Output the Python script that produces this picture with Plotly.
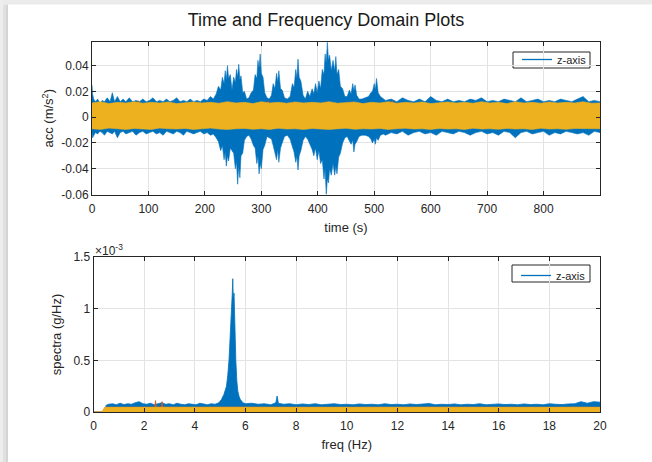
import plotly.graph_objects as go

# ---------------- time-domain data (envelopes) ----------------
z_time = [0, 1, 3, 6, 10, 14, 18, 22, 27, 32, 36, 40, 45, 50, 55, 60, 66, 72, 78, 84,
          90, 96, 102, 108, 114, 120, 126, 132, 138, 144, 150, 156, 162, 168, 174, 180, 186, 192, 198, 204,
          210, 215, 220,
          224, 228, 231, 234, 236, 238, 240, 242, 245, 248,
          251, 254, 256, 258, 260, 262, 264, 267, 270, 274,
          278, 282, 286, 289, 292, 294, 296, 298, 300, 303,
          306, 310, 314, 318, 321, 324, 327, 329, 331, 334,
          337, 341, 346, 351, 355, 358, 361, 363, 365, 367,
          370, 374, 378, 382, 386, 390, 393, 396, 399, 402,
          405, 408, 411, 413, 415, 417, 419, 421, 424, 427,
          430, 432, 434, 437, 440, 444, 448, 452, 456, 459,
          462, 464, 466, 469, 473, 478, 484, 490, 494, 497,
          500, 502, 504, 507, 511, 516, 520,
          530, 540, 550, 560, 570, 580, 590, 600, 610, 620, 630, 640, 650, 660, 670, 680, 690, 700, 710,
          720, 730, 740, 750, 760, 770, 780, 790, 800, 810, 820, 830, 840, 850, 860, 870, 880, 890, 900]
z_upper = [0.025, 0.018, 0.014, 0.012, 0.014, 0.011, 0.013, 0.012, 0.015, 0.012, 0.019, 0.012, 0.016, 0.012, 0.014, 0.012, 0.015, 0.012, 0.013, 0.012,
           0.014, 0.012, 0.013, 0.015, 0.012, 0.013, 0.012, 0.014, 0.012, 0.013, 0.015, 0.012, 0.013, 0.012, 0.014, 0.012, 0.013, 0.012, 0.014, 0.013,
           0.016, 0.014, 0.018,
           0.024, 0.021, 0.031, 0.026, 0.036, 0.029, 0.040, 0.030, 0.033, 0.021,
           0.031, 0.027, 0.037, 0.031, 0.041, 0.029, 0.032, 0.019, 0.020, 0.014,
           0.015, 0.019, 0.021, 0.033, 0.030, 0.044, 0.038, 0.049, 0.034, 0.031,
           0.019, 0.015, 0.014, 0.017, 0.026, 0.022, 0.034, 0.027, 0.036, 0.022,
           0.021, 0.015, 0.014, 0.016, 0.026, 0.023, 0.037, 0.030, 0.045, 0.031,
           0.028, 0.017, 0.014, 0.020, 0.016, 0.022, 0.018, 0.026, 0.019, 0.028,
           0.022, 0.037, 0.033, 0.049, 0.042, 0.058, 0.044, 0.048, 0.036, 0.044,
           0.036, 0.047, 0.033, 0.037, 0.024, 0.022, 0.016, 0.016, 0.021, 0.018,
           0.026, 0.020, 0.025, 0.017, 0.014, 0.014, 0.015, 0.016, 0.019, 0.020,
           0.026, 0.021, 0.030, 0.019, 0.016, 0.014, 0.013,
           0.014, 0.012, 0.015, 0.013, 0.012, 0.014, 0.012, 0.016, 0.013, 0.012, 0.014, 0.012, 0.013, 0.012, 0.014, 0.013, 0.015, 0.012, 0.013,
           0.012, 0.014, 0.013, 0.012, 0.015, 0.012, 0.013, 0.014, 0.012, 0.013, 0.012, 0.014, 0.013, 0.012, 0.014, 0.016, 0.012, 0.013, 0.012]
z_lower = [-0.012, -0.016, -0.014, -0.012, -0.013, -0.011, -0.012, -0.014, -0.011, -0.012, -0.013, -0.011, -0.016, -0.012, -0.011, -0.013, -0.012, -0.011, -0.014, -0.012,
           -0.011, -0.013, -0.012, -0.011, -0.013, -0.012, -0.014, -0.011, -0.012, -0.013, -0.011, -0.012, -0.014, -0.011, -0.012, -0.013, -0.012, -0.011, -0.013, -0.012,
           -0.014, -0.013, -0.016,
           -0.019, -0.026, -0.022, -0.033, -0.027, -0.038, -0.030, -0.034, -0.024, -0.026,
           -0.028, -0.040, -0.034, -0.052, -0.038, -0.047, -0.030, -0.028, -0.018, -0.015,
           -0.014, -0.017, -0.022, -0.024, -0.036, -0.030, -0.044, -0.036, -0.040, -0.025,
           -0.022, -0.015, -0.016, -0.017, -0.022, -0.026, -0.033, -0.025, -0.035, -0.024,
           -0.020, -0.015, -0.014, -0.017, -0.023, -0.027, -0.035, -0.030, -0.041, -0.030,
           -0.026, -0.018, -0.015, -0.017, -0.021, -0.025, -0.030, -0.024, -0.033, -0.026,
           -0.036, -0.033, -0.048, -0.040, -0.060, -0.048, -0.051, -0.040, -0.045, -0.036,
           -0.045, -0.038, -0.044, -0.031, -0.028, -0.020, -0.016, -0.015, -0.018, -0.021,
           -0.018, -0.027, -0.021, -0.019, -0.015, -0.014, -0.014, -0.015, -0.017, -0.020,
           -0.017, -0.021, -0.016, -0.018, -0.014, -0.013, -0.014,
           -0.012, -0.013, -0.011, -0.014, -0.012, -0.011, -0.013, -0.012, -0.014, -0.011, -0.012, -0.013, -0.011, -0.012, -0.014, -0.012, -0.011, -0.013, -0.012,
           -0.014, -0.011, -0.012, -0.016, -0.012, -0.011, -0.013, -0.012, -0.011, -0.014, -0.012, -0.013, -0.011, -0.012, -0.013, -0.012, -0.014, -0.011, -0.012]

y_time = [0, 15, 30, 45, 60, 75, 90, 105, 120, 135, 150, 165, 180, 195, 210, 225, 240, 255, 270, 285,
          300, 315, 330, 345, 360, 375, 390, 405, 420, 435, 450, 465, 480, 495, 510, 525, 540, 555, 570, 585,
          600, 615, 630, 645, 660, 675, 690, 705, 720, 735, 750, 765, 780, 795, 810, 825, 840, 855, 870, 885, 900]
y_upper = [0.011, 0.012, 0.0105, 0.0115, 0.011, 0.012, 0.0108, 0.0115, 0.011, 0.0118, 0.0105, 0.0112, 0.0118, 0.011, 0.0115, 0.0108, 0.012, 0.011, 0.0115, 0.0105,
           0.012, 0.011, 0.0115, 0.0108, 0.0118, 0.011, 0.0115, 0.011, 0.012, 0.0108, 0.0112, 0.0118, 0.0105, 0.0115, 0.011, 0.012, 0.0108, 0.0115, 0.011, 0.0118,
           0.0105, 0.0112, 0.0118, 0.011, 0.0115, 0.0108, 0.012, 0.011, 0.0115, 0.0105, 0.012, 0.011, 0.0115, 0.0108, 0.0118, 0.011, 0.0115, 0.011, 0.012, 0.0108, 0.011]
y_lower = [-0.009, -0.0095, -0.0085, -0.009, -0.0095, -0.0088, -0.009, -0.0095, -0.0085, -0.009, -0.0092, -0.0088, -0.0095, -0.009, -0.0085, -0.0092, -0.0095, -0.009, -0.0088, -0.0094,
           -0.009, -0.0095, -0.0086, -0.0092, -0.009, -0.0095, -0.0088, -0.0092, -0.0095, -0.009, -0.0086, -0.0094, -0.009, -0.0092, -0.0088, -0.0095, -0.009, -0.0086, -0.0092, -0.009,
           -0.0095, -0.0088, -0.0092, -0.009, -0.0095, -0.0086, -0.0092, -0.009, -0.0094, -0.0088, -0.0092, -0.009, -0.0095, -0.0086, -0.0092, -0.009, -0.0094, -0.0088, -0.0092, -0.009, -0.009]

x_time = [0, 40, 80, 82, 84, 120, 160, 200, 240, 280, 310, 312, 314, 360, 400, 440, 480, 530, 532, 534, 600, 680, 760, 840, 900]
x_upper = [0.0095, 0.0098, 0.0095, 0.0128, 0.0095, 0.0097, 0.0094, 0.0098, 0.0095, 0.0097, 0.0095, 0.0126, 0.0095, 0.0097, 0.0094, 0.0098, 0.0095, 0.0096, 0.0127, 0.0095, 0.0097, 0.0094, 0.0098, 0.0095, 0.0096]
x_lower = [-0.0080, -0.0082, -0.0080, -0.0080, -0.0081, -0.0082, -0.0080, -0.0081, -0.0082, -0.0080, -0.0081, -0.0080, -0.0082, -0.0080, -0.0081, -0.0082, -0.0080, -0.0081, -0.0080, -0.0082, -0.0080, -0.0081, -0.0082, -0.0080, -0.0081]

# ---------------- frequency-domain data (upper envelopes, g/Hz) ----------------
z_freq = [0, 0.44, 0.5, 0.6, 0.75, 0.9, 1.05, 1.2, 1.35, 1.5, 1.65, 1.8, 1.95, 2.1, 2.25, 2.4, 2.55, 2.7, 2.85, 3.0,
          3.15, 3.3, 3.45, 3.6, 3.75, 3.9, 4.05, 4.2, 4.35, 4.5, 4.65, 4.8, 4.95, 5.05, 5.15, 5.25, 5.3, 5.35, 5.4, 5.45,
          5.48, 5.5, 5.52, 5.55, 5.58, 5.62, 5.66, 5.7, 5.75, 5.8, 5.9, 6.0, 6.25, 6.5, 6.75, 7.0, 7.2, 7.25, 7.3, 7.5,
          7.75, 8.0, 8.25, 8.5, 8.75, 9.0, 9.25, 9.5, 9.75, 10.0, 10.25, 10.5, 10.75, 11.0, 11.25, 11.5, 11.75, 12.0, 12.25, 12.5,
          12.75, 13.0, 13.25, 13.5, 13.75, 14.0, 14.25, 14.5, 14.75, 15.0, 15.25, 15.5, 15.75, 16.0, 16.25, 16.5, 16.75, 17.0, 17.25, 17.5,
          17.75, 18.0, 18.25, 18.5, 18.75, 19.0, 19.25, 19.5, 19.75, 20.0]
z_spec = [0, 0, 0.065e-3, 0.075e-3, 0.08e-3, 0.07e-3, 0.085e-3, 0.072e-3, 0.08e-3, 0.075e-3, 0.09e-3, 0.1e-3, 0.08e-3, 0.075e-3, 0.085e-3, 0.07e-3, 0.08e-3, 0.09e-3, 0.075e-3, 0.08e-3,
          0.07e-3, 0.085e-3, 0.075e-3, 0.07e-3, 0.08e-3, 0.075e-3, 0.07e-3, 0.085e-3, 0.075e-3, 0.07e-3, 0.08e-3, 0.075e-3, 0.09e-3, 0.12e-3, 0.17e-3, 0.25e-3, 0.35e-3, 0.5e-3, 0.75e-3, 0.95e-3,
          1.15e-3, 1.29e-3, 1.1e-3, 1.15e-3, 0.8e-3, 0.5e-3, 0.3e-3, 0.2e-3, 0.15e-3, 0.12e-3, 0.09e-3, 0.08e-3, 0.085e-3, 0.075e-3, 0.08e-3, 0.07e-3, 0.09e-3, 0.155e-3, 0.085e-3, 0.075e-3,
          0.08e-3, 0.07e-3, 0.078e-3, 0.072e-3, 0.08e-3, 0.07e-3, 0.075e-3, 0.08e-3, 0.072e-3, 0.075e-3, 0.07e-3, 0.078e-3, 0.072e-3, 0.075e-3, 0.07e-3, 0.08e-3, 0.072e-3, 0.075e-3, 0.07e-3, 0.078e-3,
          0.072e-3, 0.075e-3, 0.082e-3, 0.07e-3, 0.075e-3, 0.072e-3, 0.078e-3, 0.07e-3, 0.075e-3, 0.072e-3, 0.08e-3, 0.07e-3, 0.075e-3, 0.078e-3, 0.072e-3, 0.075e-3, 0.07e-3, 0.078e-3, 0.072e-3, 0.075e-3,
          0.07e-3, 0.08e-3, 0.075e-3, 0.072e-3, 0.078e-3, 0.08e-3, 0.1e-3, 0.085e-3, 0.1e-3, 0.095e-3]

x_freq = [0, 0.35, 0.45, 1, 2, 2.42, 2.45, 2.48, 2.68, 2.71, 2.74, 3, 4, 5, 6, 7, 8, 9, 10, 11, 12, 13, 14, 15, 16, 17, 18, 19, 20]
x_spec = [0, 0, 0.045e-3, 0.046e-3, 0.045e-3, 0.046e-3, 0.11e-3, 0.046e-3, 0.045e-3, 0.1e-3, 0.045e-3, 0.046e-3, 0.045e-3, 0.046e-3, 0.045e-3,
          0.046e-3, 0.045e-3, 0.045e-3, 0.046e-3, 0.045e-3, 0.045e-3, 0.046e-3, 0.045e-3, 0.045e-3, 0.046e-3, 0.045e-3, 0.045e-3, 0.046e-3, 0.045e-3]

y_freq = [0, 0.35, 0.45, 1, 2, 3, 4, 5, 6, 7, 8, 9, 10, 11, 12, 13, 14, 15, 16, 17, 18, 19, 20]
y_spec = [0, 0, 0.045e-3, 0.047e-3, 0.045e-3, 0.046e-3, 0.045e-3, 0.047e-3, 0.045e-3, 0.046e-3, 0.045e-3, 0.044e-3, 0.045e-3,
          0.046e-3, 0.045e-3, 0.044e-3, 0.045e-3, 0.046e-3, 0.045e-3, 0.044e-3, 0.045e-3, 0.046e-3, 0.045e-3]

time_ticks = [0, 100, 200, 300, 400, 500, 600, 700, 800]
acc_ticks = [-0.06, -0.04, -0.02, 0, 0.02, 0.04]
acc_tick_text = ["-0.06", "-0.04", "-0.02", "0", "0.02", "0.04"]
freq_ticks = [0, 2, 4, 6, 8, 10, 12, 14, 16, 18, 20]
spec_ticks = [0, 0.5e-3, 1e-3, 1.5e-3]
spec_tick_text = ["0", "0.5", "1", "1.5"]

BLUE = "#0072BD"
ORANGE = "#D95319"
YELLOW = "#EDB120"
FONT = "Liberation Sans, Arial, Helvetica, sans-serif"
AX = "#262626"

fig = go.Figure()


def band(t, up, lo, color, xa, ya, name):
    fig.add_trace(go.Scatter(x=t + t[::-1], y=up + lo[::-1], fill="toself", fillcolor=color,
                             mode="lines", line=dict(color=color, width=0.6), name=name,
                             showlegend=False, hoverinfo="skip", xaxis=xa, yaxis=ya))


def spec(f, v, color, xa, ya, name):
    fig.add_trace(go.Scatter(x=f, y=v, fill="tozeroy", fillcolor=color, mode="lines",
                             line=dict(color=color, width=0.8), name=name, showlegend=False,
                             hoverinfo="skip", xaxis=xa, yaxis=ya))


band(z_time, z_upper, z_lower, BLUE, "x", "y", "z-axis")
band(x_time, x_upper, x_lower, ORANGE, "x", "y", "x-axis")
band(y_time, y_upper, y_lower, YELLOW, "x", "y", "y-axis")
spec(z_freq, z_spec, BLUE, "x2", "y2", "z-axis")
spec(x_freq, x_spec, ORANGE, "x2", "y2", "x-axis")
spec(y_freq, y_spec, YELLOW, "x2", "y2", "y-axis")

# legend entries (line samples, as in the original)
fig.add_trace(go.Scatter(x=[None], y=[None], mode="lines", line=dict(color=BLUE, width=1.3),
                         name="z-axis", xaxis="x", yaxis="y", legend="legend"))
fig.add_trace(go.Scatter(x=[None], y=[None], mode="lines", line=dict(color=BLUE, width=1.3),
                         name="z-axis", xaxis="x2", yaxis="y2", legend="legend2"))

L, R, T, B = 92, 52, 42, 50
W, H = 652, 462
pw, ph = W - L - R, H - T - B


def px(xp):
    return (xp - L) / pw


def py(yp):
    return (H - B - yp) / ph


axis_common = dict(showline=True, linecolor=AX, linewidth=1, mirror="ticks", ticks="inside",
                   ticklen=4, tickcolor=AX, tickwidth=1, showgrid=True, gridcolor="#e3e3e3",
                   gridwidth=1, zeroline=False, automargin=False,
                   tickfont=dict(family=FONT, size=12, color=AX),
                   title_font=dict(family=FONT, size=13, color=AX))

legend_common = dict(xanchor="left", yanchor="top", bgcolor="rgba(0,0,0,0)", borderwidth=0,
                     font=dict(family=FONT, size=11, color=AX), itemwidth=30, tracegroupgap=0)

fig.update_layout(
    width=W, height=H, margin=dict(l=L, r=R, t=T, b=B),
    paper_bgcolor="white", plot_bgcolor="white",
    font=dict(family=FONT, color=AX),
    title=dict(text="Time and Frequency Domain Plots", x=px(346), xanchor="center",
               y=1 - 20 / H, yanchor="middle", font=dict(family=FONT, size=18, color="#1a1a1a")),
    xaxis=dict(axis_common, domain=[0, 1], anchor="y", range=[0, 900], tickvals=time_ticks,
               ticklabelstandoff=3, title=dict(text="time (s)", standoff=7)),
    yaxis=dict(axis_common, domain=[py(194.5), 1], anchor="x", range=[-0.06, 0.0583],
               tickvals=acc_ticks, ticktext=acc_tick_text,
               title=dict(text="acc (m/s<sup>2</sup>)", standoff=4)),
    xaxis2=dict(axis_common, domain=[px(93.5), 1], anchor="y2", range=[0, 20], tickvals=freq_ticks,
                ticklabelstandoff=3, title=dict(text="freq (Hz)", standoff=7)),
    yaxis2=dict(axis_common, domain=[0, py(257)], anchor="x2", range=[0, 1.5e-3],
                tickvals=spec_ticks, ticktext=spec_tick_text,
                title=dict(text="spectra (g/Hz)", standoff=8)),
    legend=dict(legend_common, x=px(517), y=py(45)),
    legend2=dict(legend_common, x=px(516), y=py(261)),
    annotations=[dict(text="\u00d710<sup>-3</sup>", x=px(93), y=py(250), xref="paper", yref="paper",
                      xanchor="left", yanchor="middle", showarrow=False,
                      font=dict(family=FONT, size=12, color=AX))],
    shapes=[
        # legend boxes
        dict(type="rect", xref="paper", yref="paper", x0=px(513), x1=px(590), y0=py(68), y1=py(52),
             fillcolor="white", line=dict(color=AX, width=1), layer="below"),
        dict(type="rect", xref="paper", yref="paper", x0=px(512), x1=px(590), y0=py(282), y1=py(265),
             fillcolor="white", line=dict(color=AX, width=1), layer="below"),
        # window shadow frame
        dict(type="rect", xref="paper", yref="paper", x0=px(0), x1=px(W), y0=py(0), y1=py(4.5),
             fillcolor="#ebebeb", line=dict(width=0), layer="above"),
        dict(type="rect", xref="paper", yref="paper", x0=px(0), x1=px(3), y0=py(H), y1=py(0),
             fillcolor="#eeeeee", line=dict(width=0), layer="above"),
        dict(type="rect", xref="paper", yref="paper", x0=px(3), x1=px(5.5), y0=py(H), y1=py(4.5),
             fillcolor="#e0e0e0", line=dict(width=0), layer="above"),
        dict(type="rect", xref="paper", yref="paper", x0=px(5.5), x1=px(8), y0=py(H), y1=py(4.5),
             fillcolor="#d4d4d4", line=dict(width=0), layer="above"),
    ],
)

fig.write_html("out.html", config={"displayModeBar": False},
               post_script="document.body.style.margin='0px';")
